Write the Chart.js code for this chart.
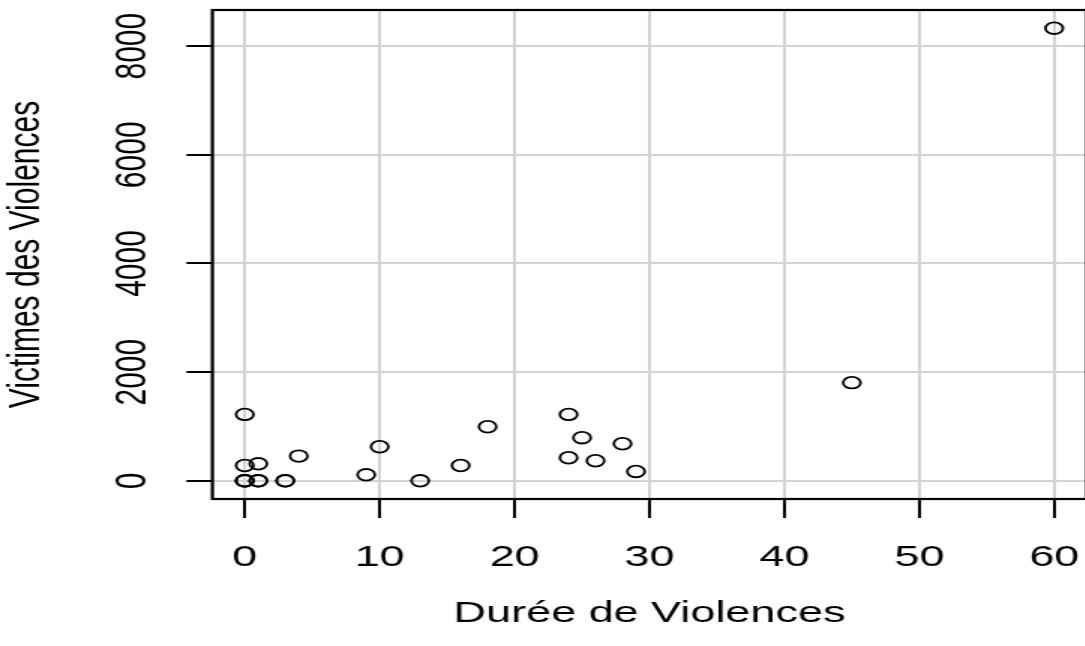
<!DOCTYPE html>
<html>
<head>
<meta charset="utf-8">
<script src="https://cdn.jsdelivr.net/npm/chart.js@4"></script>
<style>
  html, body { margin: 0; padding: 0; background: #fff; overflow: hidden; }
  /* the original plot is stretched horizontally, so the canvas is drawn narrow and widened by css */
  #chart { display: block; width: 1098px !important; height: 646px !important; }
</style>
</head>
<body>
<canvas id="chart" width="732" height="646" style="width:1098px;height:646px"></canvas>
<script>
// Durée (x) and Victimes (y)
const duree    = [0, 0, 1, 0, 0, 0, 1, 1, 3, 3, 4, 9, 10, 13, 16, 18, 24, 25, 28, 24, 26, 29, 45, 60];
const victimes = [1222, 282, 313, 0, 0, 0, 0, 0, 0, 0, 455, 110, 627, 0, 282, 995, 1222, 793, 682, 424, 369, 172, 1806, 8330];

const xTicks = [0, 10, 20, 30, 40, 50, 60];
const yTicks = [0, 2000, 4000, 6000, 8000];

const xTitle = 'Durée de Violences';
const yTitle = 'Victimes des Violences';

const police = 'Liberation Sans, Arial, Helvetica, sans-serif';

const points = duree.map((d, i) => ({ x: d, y: victimes[i] }));

// cadre noir autour de la zone du graphique
const cadre = {
    id: 'cadre',
    afterDraw(chart) {
        const a = chart.chartArea;
        const ctx = chart.ctx;
        ctx.save();
        ctx.strokeStyle = '#000';
        ctx.lineWidth = 2.2;
        ctx.strokeRect(a.left, a.top, a.right - a.left, a.bottom - a.top);
        ctx.restore();
    }
};

const ctx = document.getElementById('chart').getContext('2d');
new Chart(ctx, {
    type: 'scatter',
    data: {
        datasets: [{
            data: points,
            showLine: false,
            pointStyle: 'circle',
            pointRadius: 5.8,
            pointHoverRadius: 5.8,
            pointBorderWidth: 1.8,
            pointBorderColor: '#000',
            pointBackgroundColor: 'rgba(0,0,0,0)'
        }]
    },
    options: {
        responsive: false,
        animation: false,
        devicePixelRatio: 1,
        layout: { padding: { top: 10, right: 1.8, left: 0, bottom: 0 } },
        plugins: { legend: { display: false }, tooltip: { enabled: false } },
        scales: {
            x: {
                type: 'linear',
                min: -2.4,
                max: 62.4,
                afterBuildTicks: s => { s.ticks = xTicks.map(v => ({ value: v })); },
                afterFit: s => { s.height = 147; s.paddingLeft = 0; s.paddingRight = 0; },
                border: { display: false },
                grid: { color: '#d3d3d3', lineWidth: 2, tickColor: '#000', tickWidth: 2, tickLength: 19 },
                ticks: {
                    color: '#000', padding: 22, maxRotation: 0, autoSkip: false,
                    callback: v => String(v), font: { family: police, size: 30 }
                },
                title: { display: true, text: xTitle, color: '#000', padding: { top: 0, bottom: 14 }, font: { family: police, size: 30 } }
            },
            y: {
                type: 'linear',
                min: -335,
                max: 8665,
                afterBuildTicks: s => { s.ticks = yTicks.map(v => ({ value: v })); },
                afterFit: s => { s.width = 141.6; s.paddingTop = 0; s.paddingBottom = 0; },
                border: { display: false },
                grid: { color: '#d3d3d3', lineWidth: 2, tickColor: '#000', tickWidth: 2, tickLength: 17.3 },
                ticks: {
                    color: '#000', padding: 2.6, minRotation: 90, maxRotation: 90, crossAlign: 'center',
                    autoSkip: false, callback: v => String(v), font: { family: police, size: 30 }
                },
                title: { display: true, text: yTitle, color: '#000', padding: { top: 0, bottom: 0 }, font: { family: police, size: 30 } }
            }
        }
    },
    plugins: [cadre]
});
</script>
</body>
</html>
